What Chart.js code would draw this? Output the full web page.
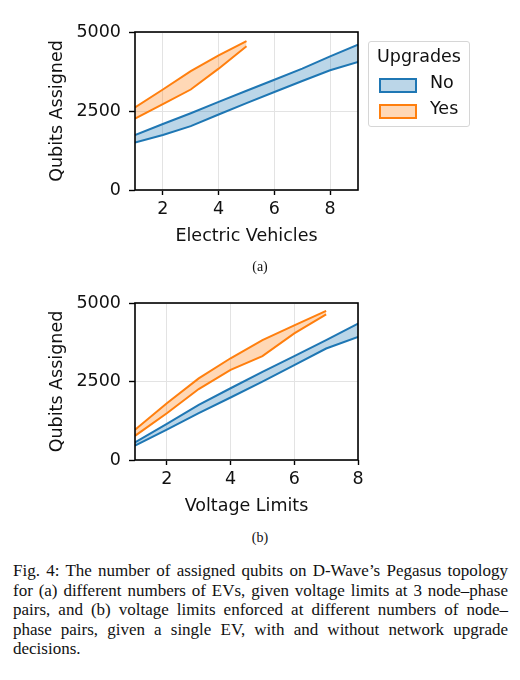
<!DOCTYPE html>
<html>
<head>
<meta charset="utf-8">
<script src="https://cdn.jsdelivr.net/npm/chart.js@4.4.1/dist/chart.umd.min.js"></script>
<style>
  html, body { margin: 0; padding: 0; background: #fff; }
  body { width: 520px; height: 680px; position: relative; overflow: hidden; }
  .box { position: absolute; left: 0; width: 520px; height: 255px; }
  .sub { position: absolute; left: 0; width: 520px; text-align: center;
         font-family: "Liberation Serif", serif; font-size: 14px; color: #111; }
  .legend { position: absolute; left: 368px; top: 41px; width: 100px; height: 84px;
            border: 1px solid #d6d6d6; border-radius: 3px; background: #fff;
            font-family: "DejaVu Sans", sans-serif; font-size: 17.5px; color: #111; }
  .legend .ttl { position: absolute; left: 0; width: 100px; top: 4px; text-align: center; }
  .legend .row { position: absolute; left: 10px; height: 20px; }
  .legend .sw { position: absolute; left: 0; top: 2px; width: 34px; height: 11px; border: 2px solid; }
  .legend .lbl { position: absolute; left: 51px; top: -4px; }
  .caption { position: absolute; left: 13px; top: 561px; width: 495px;
             font-family: "Liberation Serif", serif; font-size: 17px; line-height: 19.5px; color: #111; }
  .caption div { text-align: justify; text-align-last: justify; white-space: nowrap; }
  .caption div.last { text-align-last: left; }
</style>
</head>
<body>
<div class="box" style="top:0"><canvas id="evChart"></canvas></div>
<div class="box" style="top:270px"><canvas id="vlChart"></canvas></div>

<div class="legend">
  <div class="ttl">Upgrades</div>
  <div class="row" style="top:34px"><div class="sw" style="border-color:#1f77b4;background:rgba(31,119,180,0.3)"></div><div class="lbl">No</div></div>
  <div class="row" style="top:60px"><div class="sw" style="border-color:#ff7f0e;background:rgba(255,127,14,0.3)"></div><div class="lbl">Yes</div></div>
</div>

<div class="sub" style="top:259px">(a)</div>
<div class="sub" style="top:530px">(b)</div>

<div class="caption">
  <div>Fig. 4: The number of assigned qubits on D-Wave’s Pegasus topology</div>
  <div>for (a) different numbers of EVs, given voltage limits at 3 node–phase</div>
  <div>pairs, and (b) voltage limits enforced at different numbers of node–</div>
  <div>phase pairs, given a single EV, with and without network upgrade</div>
  <div class="last">decisions.</div>
</div>

<script>
// (a) qubits vs number of electric vehicles
const evCounts = [1, 2, 3, 4, 5, 6, 7, 8, 9];
const evNoUpper = [1740, 2090, 2430, 2790, 3140, 3490, 3840, 4230, 4600];
const evNoLower = [1500, 1740, 2020, 2390, 2750, 3100, 3450, 3790, 4050];
const evYesCounts = [1, 2, 3, 4, 5];
const evYesUpper = [2610, 3180, 3760, 4260, 4710];
const evYesLower = [2260, 2720, 3180, 3840, 4550];

// (b) qubits vs number of voltage limits
const vlCounts = [1, 2, 3, 4, 5, 6, 7, 8];
const vlNoUpper = [560, 1150, 1755, 2285, 2810, 3310, 3820, 4345];
const vlNoLower = [455, 970, 1490, 1990, 2495, 3020, 3550, 3920];
const vlYesCounts = [1, 2, 3, 4, 5, 6, 7];
const vlYesUpper = [960, 1810, 2600, 3240, 3820, 4290, 4750];
const vlYesLower = [770, 1490, 2260, 2870, 3310, 4030, 4640];

const xTicks = [2, 4, 6, 8];
const yTicks = [0, 2500, 5000];

const BLUE = '#1f77b4';
const ORANGE = '#ff7f0e';
const FONT = "'DejaVu Sans', sans-serif";

const pts = (xs, ys) => xs.map((x, i) => ({ x: x, y: ys[i] }));

const band = (xs, upper, lower, color, fill) => [
    { data: pts(xs, upper), borderColor: color, backgroundColor: fill, fill: '+1' },
    { data: pts(xs, lower), borderColor: color, backgroundColor: fill, fill: false }
];

// black frame round the plot area, like matplotlib spines
const framePlugin = {
    id: 'frame',
    afterDatasetsDraw(chart) {
        const a = chart.chartArea, ctx = chart.ctx;
        ctx.save();
        ctx.strokeStyle = '#000';
        ctx.lineWidth = 1.6;
        ctx.strokeRect(a.left, a.top, a.right - a.left, a.bottom - a.top);
        ctx.restore();
    }
};

function makeChart(id, xMax, xTitle, topPad, datasets) {
    return new Chart(document.getElementById(id).getContext('2d'), {
        type: 'line',
        data: { datasets: datasets },
        options: {
            responsive: true,
            maintainAspectRatio: false,
            animation: false,
            layout: { padding: { top: topPad, right: 162, bottom: 0, left: 0 } },
            elements: {
                line: { borderWidth: 2, tension: 0 },
                point: { radius: 0, hoverRadius: 0 }
            },
            plugins: { legend: { display: false }, tooltip: { enabled: false } },
            scales: {
                x: {
                    type: 'linear', min: 1, max: xMax,
                    afterBuildTicks: (s) => { s.ticks = xTicks.map(v => ({ value: v })); },
                    afterFit: (s) => { s.height = 65; },
                    border: { display: false },
                    grid: { color: '#e3e3e3', lineWidth: 1, tickColor: '#000', tickWidth: 1.4, tickLength: 5 },
                    ticks: { color: '#111', padding: 4, maxRotation: 0, font: { family: FONT, size: 17.5 },
                             callback: (v) => String(v) },
                    title: { display: true, text: xTitle, color: '#111', padding: { top: 0, bottom: 8 },
                             font: { family: FONT, size: 17.5 } }
                },
                y: {
                    min: 0, max: 5000,
                    afterBuildTicks: (s) => { s.ticks = yTicks.map(v => ({ value: v })); },
                    afterFit: (s) => { s.width = 135; },
                    border: { display: false },
                    grid: { color: '#e3e3e3', lineWidth: 1, tickColor: '#000', tickWidth: 1.4, tickLength: 6 },
                    ticks: { color: '#111', padding: 8, font: { family: FONT, size: 17.5 },
                             callback: (v) => String(v) },
                    title: { display: true, text: 'Qubits Assigned', color: '#111', padding: { top: 47, bottom: 0 },
                             font: { family: FONT, size: 17.5 } }
                }
            }
        },
        plugins: [framePlugin]
    });
}

makeChart('evChart', 9, 'Electric Vehicles', 32, [
    ...band(evCounts, evNoUpper, evNoLower, BLUE, 'rgba(31,119,180,0.3)'),
    ...band(evYesCounts, evYesUpper, evYesLower, ORANGE, 'rgba(255,127,14,0.3)')
]);

makeChart('vlChart', 8, 'Voltage Limits', 33, [
    ...band(vlCounts, vlNoUpper, vlNoLower, BLUE, 'rgba(31,119,180,0.3)'),
    ...band(vlYesCounts, vlYesUpper, vlYesLower, ORANGE, 'rgba(255,127,14,0.3)')
]);
</script>
</body>
</html>
